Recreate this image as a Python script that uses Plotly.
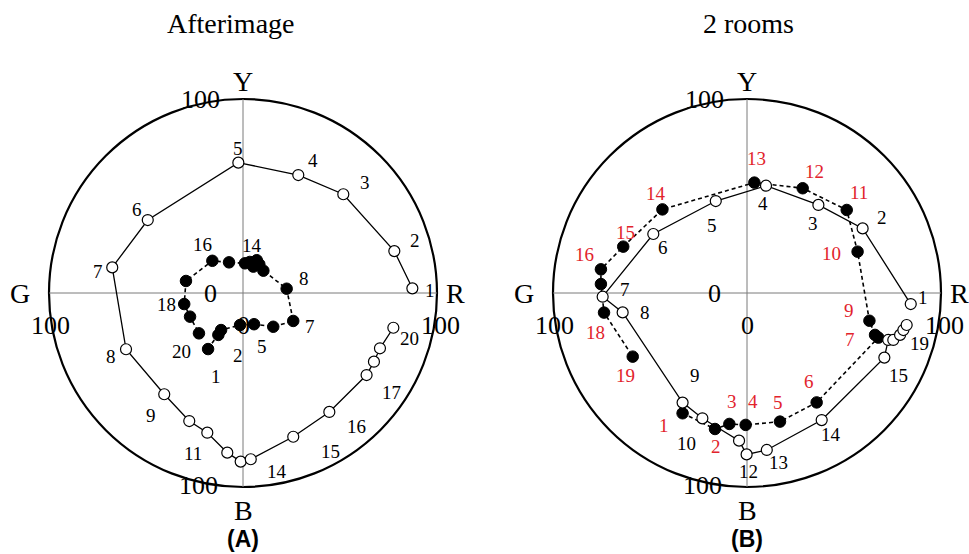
import plotly.graph_objects as go

# ---------------- data ----------------
# Panel A - Afterimage
A_OPEN_X = [87.3, 78.0, 51.7, 28.5, -2.4, -49.1, -67.4, -60.3, -40.6, -27.7,
            -18.4, -8.1, -1.2, 4.0, 25.9, 44.5, 63.7, 67.5, 70.6, 77.5]
A_OPEN_Y = [2.4, 21.6, 50.9, 60.8, 67.2, 37.6, 13.2, -29.0, -52.2, -66.0,
            -72.0, -82.3, -86.9, -85.7, -74.1, -61.3, -42.3, -35.4, -28.5, -17.9]
A_FILL_X = [-18.0, -12.7, -11.3, -1.5, 5.7, 15.6, 25.9, 22.5, 10.5, 8.4,
            5.3, 7.1, 3.5, 1.0, -7.2, -15.8, -29.4, -30.3, -27.3, -22.7]
A_FILL_Y = [-28.9, -21.6, -19.1, -16.5, -16.1, -17.4, -14.4, 2.2, 11.5, 14.8,
            13.6, 16.9, 16.0, 15.3, 15.8, 16.6, 6.2, -5.7, -12.2, -20.8]

# Panel B - 2 rooms
B_OPEN_X = [84.4, 59.6, 36.8, 9.8, -16.1, -48.3, -74.4, -64.1, -33.2, -23.0,
            -4.1, -0.2, 10.2, 38.5, 70.8, 72.8, 75.4, 78.9, 80.6, 82.3]
B_OPEN_Y = [-5.7, 33.3, 45.4, 55.3, 47.4, 30.4, -1.9, -10.0, -56.5, -64.6,
            -76.1, -83.2, -80.9, -65.5, -33.3, -24.2, -24.2, -21.6, -19.1, -16.5]
B_FILL_X = [-33.2, -16.5, -9.1, -0.7, 17.0, 35.9, 67.7, 66.0, 63.1, 57.0,
            51.4, 28.7, 3.8, -43.6, -63.8, -75.3, -75.3, -73.7, -58.9]
B_FILL_Y = [-62.0, -70.1, -67.5, -68.0, -66.3, -56.4, -23.0, -21.6, -14.3, 21.3,
            42.8, 54.0, 56.9, 43.1, 23.9, 12.2, 4.6, -10.1, -32.8]

TITLES = ["Afterimage", "2 rooms"]
PANEL_TAGS = ["(A)", "(B)"]
AXIS_LETTERS = {"Y": (0, 109), "G": (-115, 0), "R": (109.5, 0), "B": (0, -112)}

# label placement (pixel offset right, down) for each numbered point
A_OPEN_LBL = {1: (18, 2), 2: (21, -11), 3: (22, -12), 4: (15, -15), 5: (0, -14),
              6: (-11, -11), 7: (-14, 4), 8: (-15, 7), 9: (-13, 21), 11: (-14, 21),
              14: (26, 12), 15: (37, 15), 16: (27, 15), 17: (25, 17), 20: (16, 11)}
A_FILL_LBL = {1: (8, 27), 2: (20, 21), 5: (8, 22), 7: (17, 6), 8: (17, -10),
              14: (7, -18), 16: (-10, -16), 18: (-18, 0), 20: (-17, 18)}
B_OPEN_LBL = {1: (12, -7), 2: (19, -11), 3: (-5, 19), 4: (-3, 18), 5: (-4, 24),
              6: (10, 13), 7: (22, -7), 8: (22, 0), 9: (12, -27), 10: (-16, 25),
              12: (2, 17), 13: (12, 13), 14: (9, 14), 15: (14, 18), 19: (16, 13)}
B_FILL_LBL = {1: (-19, 12), 2: (1, 18), 3: (3, -22), 4: (7, -23), 5: (-2, -19),
              6: (-8, -21), 7: (-28, 2), 9: (-20, -10), 10: (-26, 2), 11: (12, -17),
              12: (12, -17), 13: (2, -24), 14: (-6, -16), 15: (2, -14), 16: (-16, -15),
              18: (-9, 20), 19: (-7, 19)}

# ---------------- layout geometry ----------------
W, H = 969, 554
S = 1.94            # pixels per unit
CX = [243, 747]     # circle centres (px)
CY = 293
TITLE_X = [231, 748]
SERIF = "Liberation Serif"
RED = "#e2232c"

fig = go.Figure()

panels = [
    ("x", "y", A_OPEN_X, A_OPEN_Y, A_FILL_X, A_FILL_Y, A_OPEN_LBL, A_FILL_LBL, "black"),
    ("x2", "y2", B_OPEN_X, B_OPEN_Y, B_FILL_X, B_FILL_Y, B_OPEN_LBL, B_FILL_LBL, RED),
]

annotations = []
shapes = []


def text(x, y, t, xref, yref, size, color="black", family=SERIF, dx=0, dy=0):
    return dict(x=x, y=y, xref=xref, yref=yref, text=t, showarrow=False,
                xanchor="center", yanchor="middle", xshift=dx, yshift=-dy,
                font=dict(family=family, size=size, color=color))


for i, (xr, yr, ox, oy, fx, fy, olbl, flbl, fcol) in enumerate(panels):
    # dashed series with filled markers
    fig.add_trace(go.Scatter(
        x=fx, y=fy, mode="lines+markers", xaxis=xr, yaxis=yr,
        line=dict(color="black", width=1.6, dash="4px,3px"),
        marker=dict(size=11.5, color="black", line=dict(color="black", width=1)),
        showlegend=False, hoverinfo="skip"))
    # solid series with open markers
    fig.add_trace(go.Scatter(
        x=ox, y=oy, mode="lines+markers", xaxis=xr, yaxis=yr,
        line=dict(color="black", width=1.3),
        marker=dict(size=11, color="white", line=dict(color="black", width=1.2)),
        showlegend=False, hoverinfo="skip"))

    # outer circle and cross hairs
    shapes.append(dict(type="circle", xref=xr, yref=yr, x0=-100, x1=100, y0=-100, y1=100,
                       line=dict(color="black", width=2.2), layer="below"))
    shapes.append(dict(type="line", xref=xr, yref=yr, x0=-100, x1=100, y0=0, y1=0,
                       line=dict(color="#7a7a7a", width=1), layer="below"))
    shapes.append(dict(type="line", xref=xr, yref=yr, x0=0, x1=0, y0=-100, y1=100,
                       line=dict(color="#7a7a7a", width=1), layer="below"))

    # point number labels
    for xs, ys, lbl, col in ((ox, oy, olbl, "black"), (fx, fy, flbl, fcol)):
        for n, (dx, dy) in lbl.items():
            annotations.append(text(xs[n - 1], ys[n - 1], str(n), xr, yr, 19, col, dx=dx, dy=dy))

    # scale labels
    for t, px, py in (("100", -22, 100), ("100", -99, -17), ("100", 102, -17),
                      ("100", -23, -99), ("0", -17, 0), ("0", 0, -17)):
        annotations.append(text(px, py, t, xr, yr, 26))
    # hue letters
    for t, (px, py) in AXIS_LETTERS.items():
        annotations.append(text(px, py, t, xr, yr, 28))

    # titles and panel tags
    annotations.append(text(TITLE_X[i] / W, 1 - 24 / H, TITLES[i], "paper", "paper", 28))
    annotations.append(text(CX[i] / W, 1 - 539 / H, "<b>" + PANEL_TAGS[i] + "</b>",
                            "paper", "paper", 23, family="Liberation Sans"))

half = W / 2
ax_common = dict(visible=False, showgrid=False, zeroline=False, fixedrange=True)
fig.update_layout(
    width=W, height=H, margin=dict(l=0, r=0, t=0, b=0),
    paper_bgcolor="white", plot_bgcolor="white",
    xaxis=dict(domain=[0, 0.5], range=[-CX[0] / S, (half - CX[0]) / S], **ax_common),
    yaxis=dict(domain=[0, 1], range=[-(H - CY) / S, CY / S], **ax_common),
    xaxis2=dict(domain=[0.5, 1], range=[-(CX[1] - half) / S, (W - CX[1]) / S], **ax_common),
    yaxis2=dict(domain=[0, 1], range=[-(H - CY) / S, CY / S], anchor="x2", **ax_common),
    shapes=shapes, annotations=annotations,
)

fig.write_html("out.html")
